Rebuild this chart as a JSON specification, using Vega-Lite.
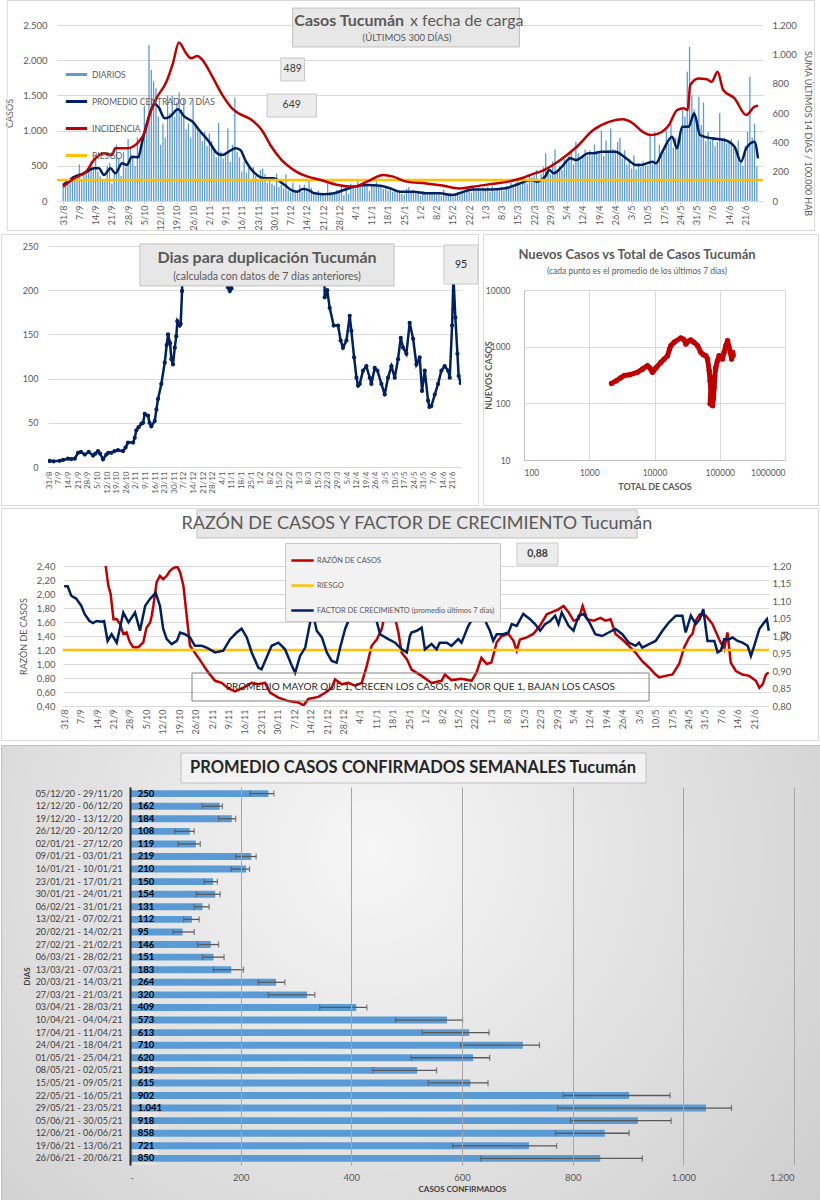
{
"$schema": "https://vega.github.io/schema/vega-lite/v6.json",
"padding": 0,
"background": "white",
"config": {
  "font": "Lato",
  "locale": {"number": {"decimal": ",", "thousands": ".", "grouping": [3], "currency": ["$", ""]}},
  "view": {"stroke": null},
  "axis": {"labelFont": "Lato", "titleFont": "Lato", "labelColor": "#595959", "titleColor": "#595959", "labelFontSize": 9, "titleFontSize": 9, "titleFontWeight": "normal", "gridColor": "#d9d9d9", "domain": false, "ticks": false, "labelOverlap": false},
  "legend": {"labelFont": "Lato", "labelColor": "#595959"},
  "text": {"font": "Lato"}
},
"datasets": {
"bars": [{"i":0,"v":250},{"i":1,"v":200},{"i":2,"v":310},{"i":3,"v":280},{"i":4,"v":350},{"i":5,"v":300},{"i":6,"v":330},
{"i":7,"v":520},{"i":8,"v":300},{"i":9,"v":420},{"i":10,"v":380},{"i":11,"v":450},{"i":12,"v":560},{"i":13,"v":480},
{"i":14,"v":600},{"i":15,"v":420},{"i":16,"v":350},{"i":17,"v":300},{"i":18,"v":280},{"i":19,"v":500},{"i":20,"v":540},
{"i":21,"v":250},{"i":22,"v":380},{"i":23,"v":800},{"i":24,"v":600},{"i":25,"v":360},{"i":26,"v":700},{"i":27,"v":480},
{"i":28,"v":880},{"i":29,"v":760},{"i":30,"v":620},{"i":31,"v":500},{"i":32,"v":900},{"i":33,"v":650},{"i":34,"v":820},
{"i":35,"v":1350},{"i":36,"v":1000},{"i":37,"v":2215},{"i":38,"v":1860},{"i":39,"v":1700},{"i":40,"v":1600},{"i":41,"v":1200},
{"i":42,"v":800},{"i":43,"v":1100},{"i":44,"v":900},{"i":45,"v":1500},{"i":46,"v":1250},{"i":47,"v":1500},{"i":48,"v":1200},
{"i":49,"v":1400},{"i":50,"v":1540},{"i":51,"v":1300},{"i":52,"v":1450},{"i":53,"v":1020},{"i":54,"v":1100},{"i":55,"v":900},
{"i":56,"v":1440},{"i":57,"v":1100},{"i":58,"v":1060},{"i":59,"v":1000},{"i":60,"v":850},{"i":61,"v":980},{"i":62,"v":780},
{"i":63,"v":960},{"i":64,"v":850},{"i":65,"v":720},{"i":66,"v":620},{"i":67,"v":1110},{"i":68,"v":700},{"i":69,"v":600},
{"i":70,"v":680},{"i":71,"v":1030},{"i":72,"v":560},{"i":73,"v":800},{"i":74,"v":1470},{"i":75,"v":700},{"i":76,"v":620},
{"i":77,"v":420},{"i":78,"v":560},{"i":79,"v":400},{"i":80,"v":480},{"i":81,"v":300},{"i":82,"v":480},{"i":83,"v":360},
{"i":84,"v":280},{"i":85,"v":440},{"i":86,"v":460},{"i":87,"v":380},{"i":88,"v":260},{"i":89,"v":320},{"i":90,"v":250},
{"i":91,"v":220},{"i":92,"v":390},{"i":93,"v":200},{"i":94,"v":230},{"i":95,"v":180},{"i":96,"v":380},{"i":97,"v":150},
{"i":98,"v":120},{"i":99,"v":260},{"i":100,"v":150},{"i":101,"v":110},{"i":102,"v":230},{"i":103,"v":130},{"i":104,"v":230},
{"i":105,"v":140},{"i":106,"v":300},{"i":107,"v":190},{"i":108,"v":120},{"i":109,"v":80},{"i":110,"v":150},{"i":111,"v":90},
{"i":112,"v":100},{"i":113,"v":70},{"i":114,"v":250},{"i":115,"v":130},{"i":116,"v":90},{"i":117,"v":110},{"i":118,"v":160},
{"i":119,"v":150},{"i":120,"v":230},{"i":121,"v":80},{"i":122,"v":200},{"i":123,"v":100},{"i":124,"v":250},{"i":125,"v":230},
{"i":126,"v":180},{"i":127,"v":290},{"i":128,"v":240},{"i":129,"v":200},{"i":130,"v":250},{"i":131,"v":220},{"i":132,"v":140},
{"i":133,"v":220},{"i":134,"v":210},{"i":135,"v":280},{"i":136,"v":200},{"i":137,"v":230},{"i":138,"v":170},{"i":139,"v":180},
{"i":140,"v":150},{"i":141,"v":200},{"i":142,"v":130},{"i":143,"v":160},{"i":144,"v":120},{"i":145,"v":140},{"i":146,"v":100},
{"i":147,"v":90},{"i":148,"v":170},{"i":149,"v":200},{"i":150,"v":130},{"i":151,"v":160},{"i":152,"v":110},{"i":153,"v":140},
{"i":154,"v":80},{"i":155,"v":140},{"i":156,"v":120},{"i":157,"v":90},{"i":158,"v":120},{"i":159,"v":100},{"i":160,"v":130},
{"i":161,"v":90},{"i":162,"v":130},{"i":163,"v":70},{"i":164,"v":160},{"i":165,"v":100},{"i":166,"v":80},{"i":167,"v":110},
{"i":168,"v":60},{"i":169,"v":100},{"i":170,"v":110},{"i":171,"v":90},{"i":172,"v":150},{"i":173,"v":120},{"i":174,"v":130},
{"i":175,"v":170},{"i":176,"v":120},{"i":177,"v":200},{"i":178,"v":150},{"i":179,"v":180},{"i":180,"v":140},{"i":181,"v":190},
{"i":182,"v":160},{"i":183,"v":200},{"i":184,"v":130},{"i":185,"v":210},{"i":186,"v":150},{"i":187,"v":180},{"i":188,"v":170},
{"i":189,"v":200},{"i":190,"v":150},{"i":191,"v":210},{"i":192,"v":190},{"i":193,"v":260},{"i":194,"v":230},{"i":195,"v":260},
{"i":196,"v":300},{"i":197,"v":220},{"i":198,"v":280},{"i":199,"v":340},{"i":200,"v":250},{"i":201,"v":380},{"i":202,"v":330},
{"i":203,"v":350},{"i":204,"v":440},{"i":205,"v":300},{"i":206,"v":380},{"i":207,"v":480},{"i":208,"v":680},{"i":209,"v":420},
{"i":210,"v":380},{"i":211,"v":560},{"i":212,"v":730},{"i":213,"v":450},{"i":214,"v":500},{"i":215,"v":440},{"i":216,"v":600},
{"i":217,"v":560},{"i":218,"v":640},{"i":219,"v":700},{"i":220,"v":520},{"i":221,"v":840},{"i":222,"v":680},{"i":223,"v":580},
{"i":224,"v":620},{"i":225,"v":730},{"i":226,"v":640},{"i":227,"v":720},{"i":228,"v":650},{"i":229,"v":800},{"i":230,"v":700},
{"i":231,"v":690},{"i":232,"v":1000},{"i":233,"v":640},{"i":234,"v":860},{"i":235,"v":720},{"i":236,"v":1030},{"i":237,"v":740},
{"i":238,"v":720},{"i":239,"v":840},{"i":240,"v":900},{"i":241,"v":600},{"i":242,"v":720},{"i":243,"v":520},{"i":244,"v":600},
{"i":245,"v":460},{"i":246,"v":650},{"i":247,"v":450},{"i":248,"v":540},{"i":249,"v":480},{"i":250,"v":560},{"i":251,"v":500},
{"i":252,"v":500},{"i":253,"v":936},{"i":254,"v":520},{"i":255,"v":980},{"i":256,"v":540},{"i":257,"v":800},{"i":258,"v":680},
{"i":259,"v":700},{"i":260,"v":1000},{"i":261,"v":820},{"i":262,"v":1100},{"i":263,"v":760},{"i":264,"v":900},{"i":265,"v":880},
{"i":266,"v":950},{"i":267,"v":1300},{"i":268,"v":1200},{"i":269,"v":1836},{"i":270,"v":2191},{"i":271,"v":1500},{"i":272,"v":1300},
{"i":273,"v":1150},{"i":274,"v":1481},{"i":275,"v":1080},{"i":276,"v":1400},{"i":277,"v":850},{"i":278,"v":980},{"i":279,"v":860},
{"i":280,"v":900},{"i":281,"v":780},{"i":282,"v":840},{"i":283,"v":1250},{"i":284,"v":860},{"i":285,"v":900},{"i":286,"v":820},
{"i":287,"v":850},{"i":288,"v":880},{"i":289,"v":760},{"i":290,"v":700},{"i":291,"v":860},{"i":292,"v":540},{"i":293,"v":500},
{"i":294,"v":780},{"i":295,"v":980},{"i":296,"v":1765},{"i":297,"v":900},{"i":298,"v":1100},{"i":299,"v":489}],
"prom": [{"i":0,"v":227},{"i":5,"v":345},{"i":9,"v":393},{"i":13.3,"v":464},{"i":15.4,"v":464},{"i":17.6,"v":369},{"i":20.4,"v":464},{"i":22.5,"v":393},{"i":25.4,"v":535},{"i":27.5,"v":511},{"i":29.6,"v":629},{"i":32.4,"v":620},{"i":33.9,"v":819},{"i":35.3,"v":1008},{"i":37.4,"v":1245},{"i":39.5,"v":1377},{"i":41,"v":1340},{"i":43.8,"v":1174},{"i":46,"v":1198},{"i":49.5,"v":1302},{"i":52.3,"v":1198},{"i":55.8,"v":1126},{"i":58.6,"v":1008},{"i":62.9,"v":843},{"i":66.4,"v":677},{"i":68.6,"v":653},{"i":71.4,"v":701},{"i":74.2,"v":748},{"i":76.4,"v":724},{"i":78.5,"v":582},{"i":82.7,"v":393},{"i":87,"v":322},{"i":90.5,"v":322},{"i":95.5,"v":227},{"i":98.3,"v":156},{"i":101,"v":133},{"i":103.3,"v":170},{"i":106,"v":150},{"i":108.3,"v":109},{"i":112.6,"v":95},{"i":116.8,"v":109},{"i":121,"v":156},{"i":125.4,"v":203},{"i":131,"v":227},{"i":136.7,"v":215},{"i":141,"v":180},{"i":145.2,"v":133},{"i":150.9,"v":133},{"i":156.6,"v":109},{"i":162.3,"v":109},{"i":167.9,"v":85},{"i":170.7,"v":109},{"i":176.4,"v":165},{"i":184.9,"v":165},{"i":190.6,"v":180},{"i":196.3,"v":242},{"i":201.9,"v":300},{"i":204,"v":275},{"i":208,"v":360},{"i":209.5,"v":440},{"i":211.5,"v":393},{"i":215,"v":488},{"i":218.6,"v":606},{"i":221,"v":582},{"i":226.5,"v":677},{"i":228.5,"v":677},{"i":232,"v":701},{"i":235.6,"v":701},{"i":238,"v":701},{"i":242.7,"v":606},{"i":247,"v":511},{"i":249,"v":511},{"i":254,"v":559},{"i":255.5,"v":535},{"i":258.3,"v":701},{"i":262.5,"v":913},{"i":264.6,"v":748},{"i":266.8,"v":1055},{"i":269.6,"v":1055},{"i":272,"v":1245},{"i":274.5,"v":937},{"i":279.5,"v":890},{"i":285,"v":866},{"i":289.4,"v":771},{"i":292.2,"v":558},{"i":294.4,"v":748},{"i":298,"v":843},{"i":299.5,"v":606}],
"inc": [{"i":0,"v":97},{"i":4.8,"v":155},{"i":9.9,"v":200},{"i":13.3,"v":280},{"i":17.6,"v":325},{"i":21,"v":314},{"i":22.5,"v":359},{"i":27.5,"v":359},{"i":33.2,"v":416},{"i":35.3,"v":473},{"i":37.4,"v":598},{"i":40.2,"v":700},{"i":44.5,"v":813},{"i":47.3,"v":939},{"i":49.9,"v":1080},{"i":53,"v":1007},{"i":55.1,"v":973},{"i":57.9,"v":989},{"i":60,"v":962},{"i":64.3,"v":848},{"i":68.6,"v":723},{"i":72.8,"v":632},{"i":75.6,"v":598},{"i":81.3,"v":552},{"i":85.6,"v":484},{"i":89.8,"v":370},{"i":94.1,"v":280},{"i":98.3,"v":223},{"i":101,"v":195},{"i":105.5,"v":166},{"i":111,"v":143},{"i":118.3,"v":109},{"i":125.4,"v":97},{"i":131,"v":132},{"i":138,"v":177},{"i":142.3,"v":166},{"i":148,"v":132},{"i":156.4,"v":120},{"i":163.5,"v":105},{"i":170.6,"v":86},{"i":176.3,"v":97},{"i":184.8,"v":116},{"i":191.9,"v":132},{"i":197.5,"v":155},{"i":201.8,"v":180},{"i":207.2,"v":211},{"i":214.3,"v":280},{"i":221.4,"v":370},{"i":228.5,"v":484},{"i":235.6,"v":541},{"i":241.2,"v":557},{"i":245.5,"v":530},{"i":249.7,"v":473},{"i":253.3,"v":450},{"i":256.8,"v":461},{"i":261.1,"v":518},{"i":264.6,"v":620},{"i":267.5,"v":632},{"i":269.2,"v":620},{"i":270.3,"v":791},{"i":273.8,"v":836},{"i":277.4,"v":830},{"i":279.5,"v":813},{"i":282.1,"v":882},{"i":284.5,"v":757},{"i":289.4,"v":700},{"i":294.4,"v":586},{"i":298,"v":643},{"i":299.5,"v":649}],
"dup": [{"d":0.2,"v":6.8},{"d":3,"v":6.5},{"d":7.5,"v":7},{"d":10,"v":8},{"d":13.6,"v":9.4},{"d":16,"v":9},{"d":18.5,"v":9.4},{"d":20.9,"v":16},{"d":23,"v":17},{"d":25.8,"v":14},{"d":28.7,"v":17},{"d":31.8,"v":13},{"d":33.5,"v":15},{"d":35.5,"v":18},{"d":37,"v":15},{"d":39.1,"v":8.7},{"d":41.5,"v":14},{"d":43,"v":16},{"d":45.2,"v":16},{"d":47.5,"v":18},{"d":50,"v":19},{"d":53.7,"v":18},{"d":55.5,"v":22},{"d":57.3,"v":27.6},{"d":61,"v":27.6},{"d":62.2,"v":33},{"d":63.4,"v":41.5},{"d":65,"v":45},{"d":67.1,"v":49},{"d":68.3,"v":50},{"d":69.5,"v":60},{"d":71.9,"v":58},{"d":73,"v":50},{"d":74.3,"v":46},{"d":76.8,"v":52},{"d":78,"v":65},{"d":79.2,"v":77},{"d":81.6,"v":94},{"d":84.1,"v":118},{"d":85.5,"v":138},{"d":86.5,"v":150},{"d":88,"v":140},{"d":88.9,"v":122},{"d":90.1,"v":116},{"d":91.4,"v":135},{"d":92.5,"v":148},{"d":93.3,"v":165},{"d":95,"v":160},{"d":95.7,"v":162},{"d":96.7,"v":199},{"d":98,"v":290},{"d":105,"v":600},{"d":120,"v":700},{"d":128,"v":400},{"d":130.2,"v":203},{"d":131.5,"v":199},{"d":132.7,"v":202},{"d":134,"v":400},{"d":160,"v":900},{"d":190,"v":900},{"d":199,"v":320},{"d":200.7,"v":192},{"d":202.5,"v":200},{"d":204.3,"v":180},{"d":207.2,"v":160},{"d":210.4,"v":160},{"d":212.3,"v":143},{"d":214,"v":135},{"d":216.5,"v":143},{"d":218.9,"v":171},{"d":220.1,"v":154},{"d":222.1,"v":124},{"d":223.8,"v":101},{"d":225,"v":92},{"d":226.2,"v":94},{"d":228.6,"v":109},{"d":231,"v":114},{"d":233.5,"v":101},{"d":234.7,"v":94},{"d":237.1,"v":112},{"d":239.1,"v":109},{"d":242,"v":94},{"d":244.4,"v":82},{"d":246.8,"v":101},{"d":249.3,"v":114},{"d":251.7,"v":101},{"d":254.1,"v":122},{"d":256.1,"v":146},{"d":257.8,"v":135},{"d":260.2,"v":128},{"d":262.6,"v":163},{"d":265.1,"v":145},{"d":267.5,"v":116},{"d":269.9,"v":124},{"d":271.6,"v":86},{"d":273.6,"v":109},{"d":276,"v":75},{"d":277,"v":68},{"d":278.4,"v":69},{"d":280.9,"v":82},{"d":283.3,"v":94},{"d":285.7,"v":109},{"d":288.1,"v":114},{"d":290.6,"v":109},{"d":291.8,"v":101},{"d":293.5,"v":160},{"d":294.5,"v":215},{"d":295.9,"v":169},{"d":297.4,"v":128},{"d":298.3,"v":103},{"d":299.8,"v":95}],
"sc": [{"k":0,"x":2190,"y":225},{"k":1,"x":2600,"y":250},{"k":2,"x":3000,"y":280},{"k":3,"x":3420,"y":309},{"k":4,"x":4200,"y":320},{"k":5,"x":5480,"y":352},{"k":6,"x":6500,"y":400},{"k":7,"x":7810,"y":462},{"k":8,"x":8500,"y":420},{"k":9,"x":9310,"y":352},{"k":10,"x":10500,"y":420},{"k":11,"x":12500,"y":528},{"k":12,"x":14000,"y":600},{"k":13,"x":15850,"y":692},{"k":14,"x":17000,"y":900},{"k":15,"x":17800,"y":1041},{"k":16,"x":20000,"y":1200},{"k":17,"x":25300,"y":1422},{"k":18,"x":28000,"y":1350},{"k":19,"x":30200,"y":1115},{"k":20,"x":33000,"y":1250},{"k":21,"x":36000,"y":1312},{"k":22,"x":40000,"y":1200},{"k":23,"x":45700,"y":1041},{"k":24,"x":51300,"y":795},{"k":25,"x":56000,"y":720},{"k":26,"x":61200,"y":692},{"k":27,"x":65000,"y":600},{"k":28,"x":68900,"y":378},{"k":29,"x":71000,"y":250},{"k":30,"x":73000,"y":191},{"k":31,"x":71300,"y":98},{"k":32,"x":74000,"y":100},{"k":33,"x":77600,"y":91},{"k":34,"x":80000,"y":120},{"k":35,"x":82100,"y":191},{"k":36,"x":84000,"y":300},{"k":37,"x":87100,"y":431},{"k":38,"x":92000,"y":560},{"k":39,"x":97700,"y":692},{"k":40,"x":103000,"y":640},{"k":41,"x":110000,"y":603},{"k":42,"x":117000,"y":800},{"k":43,"x":124000,"y":1041},{"k":44,"x":132000,"y":1277},{"k":45,"x":138000,"y":1000},{"k":46,"x":145000,"y":795},{"k":47,"x":152000,"y":603},{"k":48,"x":158000,"y":795},{"k":49,"x":160000,"y":700}],
"razon": [{"d":16.5,"v":2.8},{"d":17.7,"v":2.4},{"d":18.8,"v":2.12},{"d":19.8,"v":2.0},{"d":21,"v":1.64},{"d":22.4,"v":1.64},{"d":23.8,"v":1.57},{"d":25.2,"v":1.43},{"d":26.6,"v":1.45},{"d":28,"v":1.31},{"d":29.4,"v":1.24},{"d":31.6,"v":1.24},{"d":33.7,"v":1.31},{"d":35.1,"v":1.52},{"d":36.6,"v":1.59},{"d":37.3,"v":1.69},{"d":38,"v":1.83},{"d":39.4,"v":2.17},{"d":40.8,"v":2.26},{"d":42.2,"v":2.21},{"d":43.7,"v":2.26},{"d":45.1,"v":2.33},{"d":46.5,"v":2.37},{"d":48.2,"v":2.39},{"d":49.4,"v":2.31},{"d":50.8,"v":2.12},{"d":52.2,"v":1.69},{"d":53.6,"v":1.26},{"d":55.7,"v":1.16},{"d":58.6,"v":1.02},{"d":61.4,"v":0.88},{"d":64.3,"v":0.76},{"d":67.1,"v":0.73},{"d":70,"v":0.65},{"d":72.8,"v":0.61},{"d":75.6,"v":0.65},{"d":79.9,"v":0.73},{"d":82.7,"v":0.71},{"d":85.6,"v":0.73},{"d":87.7,"v":0.59},{"d":91.3,"v":0.52},{"d":95.6,"v":0.47},{"d":99.8,"v":0.45},{"d":102,"v":0.41},{"d":104,"v":0.5},{"d":108.3,"v":0.53},{"d":111.2,"v":0.59},{"d":114,"v":0.66},{"d":115.4,"v":0.78},{"d":118.3,"v":0.71},{"d":121,"v":0.73},{"d":124,"v":0.69},{"d":126.8,"v":0.73},{"d":128.9,"v":0.97},{"d":131,"v":1.26},{"d":133.2,"v":1.35},{"d":135.3,"v":1.5},{"d":136.8,"v":1.74},{"d":138.4,"v":1.88},{"d":140.3,"v":1.76},{"d":142.4,"v":1.45},{"d":143.8,"v":1.16},{"d":146,"v":1.07},{"d":148,"v":0.92},{"d":152.3,"v":0.83},{"d":156.5,"v":0.73},{"d":160.8,"v":0.76},{"d":162.2,"v":0.85},{"d":165,"v":0.77},{"d":169.3,"v":0.79},{"d":173.6,"v":0.76},{"d":175.7,"v":0.88},{"d":177.8,"v":1.09},{"d":180,"v":1.0},{"d":182,"v":1.02},{"d":184.3,"v":1.31},{"d":186.4,"v":1.4},{"d":189.3,"v":1.43},{"d":191.4,"v":1.33},{"d":192.8,"v":1.19},{"d":194.2,"v":1.35},{"d":197.1,"v":1.38},{"d":199.9,"v":1.43},{"d":202.8,"v":1.55},{"d":205.6,"v":1.71},{"d":207.8,"v":1.74},{"d":210.6,"v":1.78},{"d":212.8,"v":1.83},{"d":214.9,"v":1.74},{"d":217,"v":1.62},{"d":219.2,"v":1.64},{"d":220.9,"v":1.83},{"d":222.8,"v":1.64},{"d":225.6,"v":1.62},{"d":228.5,"v":1.66},{"d":230.6,"v":1.62},{"d":232.8,"v":1.64},{"d":234.9,"v":1.43},{"d":237.8,"v":1.35},{"d":240.6,"v":1.26},{"d":243.5,"v":1.16},{"d":246.3,"v":1.04},{"d":249.2,"v":0.95},{"d":252,"v":0.85},{"d":253.5,"v":0.81},{"d":256.3,"v":0.83},{"d":259.2,"v":0.85},{"d":262,"v":1.0},{"d":264.2,"v":1.24},{"d":266.3,"v":1.38},{"d":267.7,"v":1.43},{"d":269.1,"v":1.62},{"d":270.8,"v":1.71},{"d":273.4,"v":1.69},{"d":276.2,"v":1.57},{"d":279.1,"v":1.35},{"d":281.2,"v":1.21},{"d":282.6,"v":1.45},{"d":284,"v":1.02},{"d":286.2,"v":0.9},{"d":289,"v":0.85},{"d":291.9,"v":0.83},{"d":294.7,"v":0.76},{"d":296.2,"v":0.66},{"d":297.6,"v":0.71},{"d":299,"v":0.85},{"d":300.2,"v":0.88}],
"factor": [{"d":0,"v":1.142},{"d":1.5,"v":1.142},{"d":3,"v":1.115},{"d":5.1,"v":1.107},{"d":7.3,"v":1.086},{"d":8.7,"v":1.063},{"d":10.8,"v":1.043},{"d":12.3,"v":1.037},{"d":13.8,"v":1.043},{"d":15.9,"v":1.041},{"d":17,"v":1.043},{"d":18.5,"v":0.986},{"d":20.2,"v":1.005},{"d":22.4,"v":0.981},{"d":25.2,"v":1.067},{"d":27.4,"v":1.039},{"d":30.2,"v":1.067},{"d":32.3,"v":1.015},{"d":34.5,"v":1.086},{"d":36.6,"v":1.106},{"d":39,"v":1.123},{"d":40.8,"v":1.086},{"d":42.2,"v":1.02},{"d":43.7,"v":0.991},{"d":45.8,"v":0.977},{"d":48,"v":0.986},{"d":49.4,"v":1.01},{"d":51.5,"v":1.005},{"d":53.6,"v":0.996},{"d":55.7,"v":0.972},{"d":58.6,"v":0.972},{"d":60.7,"v":0.967},{"d":64.3,"v":0.953},{"d":67.8,"v":0.958},{"d":70.7,"v":0.991},{"d":73.5,"v":1.01},{"d":75.6,"v":1.021},{"d":77.8,"v":0.996},{"d":79.9,"v":0.953},{"d":82.7,"v":0.91},{"d":84.1,"v":0.905},{"d":86.2,"v":0.938},{"d":88.4,"v":0.972},{"d":91.3,"v":0.981},{"d":94.1,"v":0.962},{"d":97,"v":0.915},{"d":98.4,"v":0.895},{"d":100.5,"v":0.943},{"d":102.7,"v":0.967},{"d":104.8,"v":1.039},{"d":106.2,"v":1.058},{"d":107.6,"v":1.015},{"d":109.8,"v":0.996},{"d":111.9,"v":0.953},{"d":114,"v":0.929},{"d":116.1,"v":0.924},{"d":117.6,"v":0.967},{"d":119.7,"v":1.02},{"d":122,"v":1.058},{"d":124,"v":1.058},{"d":125.4,"v":1.091},{"d":127.5,"v":1.086},{"d":129.8,"v":1.077},{"d":132.5,"v":1.058},{"d":134.6,"v":1.005},{"d":138.1,"v":0.991},{"d":141,"v":0.981},{"d":143.8,"v":0.962},{"d":146,"v":0.953},{"d":147.3,"v":1.0},{"d":148,"v":1.01},{"d":150.2,"v":1.015},{"d":152.3,"v":1.024},{"d":153.7,"v":0.962},{"d":156.5,"v":0.977},{"d":158.7,"v":0.962},{"d":160,"v":0.981},{"d":163,"v":0.981},{"d":165,"v":0.972},{"d":167.9,"v":0.991},{"d":169.3,"v":0.981},{"d":172.2,"v":1.029},{"d":174.3,"v":1.053},{"d":176.4,"v":1.067},{"d":178.5,"v":1.063},{"d":180,"v":1.034},{"d":181.4,"v":1.015},{"d":182.8,"v":0.986},{"d":184.3,"v":1.005},{"d":187.1,"v":1.005},{"d":189.3,"v":1.01},{"d":190.7,"v":1.034},{"d":192.8,"v":1.029},{"d":195.6,"v":1.063},{"d":198.5,"v":1.048},{"d":200.6,"v":1.034},{"d":202.8,"v":1.015},{"d":204.9,"v":1.034},{"d":207.1,"v":1.043},{"d":209.2,"v":1.058},{"d":210.6,"v":1.034},{"d":212,"v":1.067},{"d":214.9,"v":1.029},{"d":217,"v":1.015},{"d":219.2,"v":1.058},{"d":221.3,"v":1.063},{"d":223.5,"v":1.043},{"d":226.3,"v":1.005},{"d":229.2,"v":1.0},{"d":232,"v":1.01},{"d":234.9,"v":1.02},{"d":237.8,"v":1.005},{"d":240.6,"v":0.981},{"d":243.5,"v":0.972},{"d":244.9,"v":0.981},{"d":246.3,"v":0.967},{"d":249.2,"v":0.977},{"d":252,"v":0.986},{"d":254.9,"v":1.015},{"d":257.7,"v":1.039},{"d":260.6,"v":1.058},{"d":263.4,"v":1.058},{"d":264.8,"v":1.01},{"d":267,"v":1.058},{"d":269.1,"v":1.034},{"d":270.8,"v":1.048},{"d":272.3,"v":1.077},{"d":274.1,"v":0.986},{"d":277,"v":0.986},{"d":278.4,"v":0.953},{"d":279.8,"v":0.958},{"d":281.2,"v":0.991},{"d":283.4,"v":0.991},{"d":284.8,"v":0.996},{"d":286.9,"v":0.986},{"d":289,"v":0.981},{"d":291.2,"v":0.972},{"d":292.6,"v":0.943},{"d":294,"v":0.972},{"d":296.2,"v":1.02},{"d":298.3,"v":1.039},{"d":299.4,"v":1.048},{"d":300.2,"v":1.015}],
"weeks": [{"w":"05/12/20 - 29/11/20","v":250,"lo":217,"hi":260},{"w":"12/12/20 - 06/12/20","v":162,"lo":131,"hi":167},{"w":"19/12/20 - 13/12/20","v":184,"lo":160,"hi":191},{"w":"26/12/20 - 20/12/20","v":108,"lo":81,"hi":116},{"w":"02/01/21 - 27/12/20","v":119,"lo":87,"hi":127},{"w":"09/01/21 - 03/01/21","v":219,"lo":191,"hi":228},{"w":"16/01/21 - 10/01/21","v":210,"lo":183,"hi":216},{"w":"23/01/21 - 17/01/21","v":150,"lo":134,"hi":158},{"w":"30/01/21 - 24/01/21","v":154,"lo":120,"hi":163},{"w":"06/02/21 - 31/01/21","v":131,"lo":116,"hi":143},{"w":"13/02/21 - 07/02/21","v":112,"lo":97,"hi":125},{"w":"20/02/21 - 14/02/21","v":95,"lo":78,"hi":116},{"w":"27/02/21 - 21/02/21","v":146,"lo":122,"hi":160},{"w":"06/03/21 - 28/02/21","v":151,"lo":131,"hi":170},{"w":"13/03/21 - 07/03/21","v":183,"lo":151,"hi":205},{"w":"20/03/21 - 14/03/21","v":264,"lo":232,"hi":280},{"w":"27/03/21 - 21/03/21","v":320,"lo":250,"hi":334},{"w":"03/04/21 - 28/03/21","v":409,"lo":343,"hi":428},{"w":"10/04/21 - 04/04/21","v":573,"lo":480,"hi":601},{"w":"17/04/21 - 11/04/21","v":613,"lo":528,"hi":649},{"w":"24/04/21 - 18/04/21","v":710,"lo":598,"hi":740},{"w":"01/05/21 - 25/04/21","v":620,"lo":508,"hi":650},{"w":"08/05/21 - 02/05/21","v":519,"lo":439,"hi":554},{"w":"15/05/21 - 09/05/21","v":615,"lo":539,"hi":647},{"w":"22/05/21 - 16/05/21","v":902,"lo":783,"hi":976},{"w":"29/05/21 - 23/05/21","v":1041,"lo":773,"hi":1087},{"w":"05/06/21 - 30/05/21","v":918,"lo":796,"hi":978},{"w":"12/06/21 - 06/06/21","v":858,"lo":769,"hi":902},{"w":"19/06/21 - 13/06/21","v":721,"lo":583,"hi":771},{"w":"26/06/21 - 20/06/21","v":850,"lo":634,"hi":926}]
},
"spacing": 2,
"resolve": {"scale": {"color": "independent"}, "legend": {"color": "independent"}},
"vconcat": [
{
 "spacing": 0, "bounds": "flush",
 "hconcat": [
 {"width": 56, "height": 1, "data": {"values": []}, "mark": "point"},
 {
 "width": 706, "height": 176,
 "resolve": {"scale": {"y": "independent"}},
 "layer": [
  {"layer": [
   {"data": {"values": [{}]}, "mark": {"type": "rect", "fill": "transparent", "stroke": "#d9d9d9"},
    "encoding": {"x": {"datum": -24.08, "type": "quantitative", "scale": {"domain": [-0.5, 299.5], "nice": false, "zero": false}}, "x2": {"datum": 323.9}, "y": {"datum": 2848, "type": "quantitative", "scale": {"domain": [0, 2500], "nice": false, "zero": false}}, "y2": {"datum": -419}}},
   {"data": {"name": "bars"}, "mark": {"type": "bar", "width": 1.3, "color": "#5b9bd5", "orient": "vertical"},
    "encoding": {
     "x": {"field": "i", "type": "quantitative", "scale": {"domain": [-0.5, 299.5], "nice": false, "zero": false},
       "axis": {"values": [0,7,14,21,28,35,42,49,56,63,70,77,84,91,98,105,112,119,126,133,140,147,154,161,168,175,182,189,196,203,210,217,224,231,238,245,252,259,266,273,280,287,294], "tickCount": 100, "labelExpr": "timeFormat(datetime(2020,7,31+datum.value),'%-d/%-m')", "labelAngle": -90, "labelFontSize": 9, "labelPadding": 1, "labelOverlap": false, "domain": true, "domainColor": "#d9d9d9", "ticks": true, "tickColor": "#d9d9d9", "tickSize": 3, "grid": false, "title": null}},
     "y": {"field": "v", "type": "quantitative", "scale": {"domain": [0, 2500], "nice": false, "zero": false},
       "axis": {"values": [0,500,1000,1500,2000,2500], "tickCount": 100, "format": ",.0f", "labelOverlap": false, "grid": true, "title": "CASOS", "titlePadding": 8, "labelPadding": 10, "labelFontSize": 9.5}}}},
   {"data": {"name": "prom"}, "mark": {"type": "line", "color": "#002060", "strokeWidth": 2.5, "interpolate": "monotone"},
    "encoding": {"x": {"field": "i", "type": "quantitative", "scale": {"domain": [-0.5, 299.5], "nice": false, "zero": false}}, "y": {"field": "v", "type": "quantitative", "scale": {"domain": [0, 2500], "nice": false, "zero": false}}}},
   {"data": {"values": [{}]}, "mark": {"type": "rule", "color": "#ffc000", "strokeWidth": 2.5},
    "encoding": {"y": {"datum": 300, "type": "quantitative", "scale": {"domain": [0, 2500], "nice": false, "zero": false}}}},
   {"data": {"values": [{"s": "DIARIOS"}, {"s": "PROMEDIO CENTRADO 7 DÍAS"}, {"s": "INCIDENCIA"}, {"s": "RIESGO"}]}, "mark": {"type": "line", "strokeWidth": 3},
    "encoding": {"color": {"field": "s", "type": "nominal", "scale": {"domain": ["DIARIOS", "PROMEDIO CENTRADO 7 DÍAS", "INCIDENCIA", "RIESGO"], "range": ["#5b9bd5", "#002060", "#c00000", "#ffc000"]},
      "legend": {"orient": "none", "legendX": 63, "legendY": 37, "title": null, "symbolType": "stroke", "symbolStrokeWidth": 3, "symbolSize": 450, "labelFontSize": 8.5, "labelLimit": 0, "rowPadding": 8, "padding": 0, "labelOffset": 3}}}},
   {"data": {"values": [{}]}, "mark": {"type": "rect", "fill": "#e7e7e7", "stroke": "#bfbfbf"},
    "encoding": {"x": {"datum": 98.93, "type": "quantitative", "scale": {"domain": [-0.5, 299.5], "nice": false, "zero": false}}, "x2": {"datum": 196.67}, "y": {"datum": 2741, "type": "quantitative", "scale": {"domain": [0, 2500], "nice": false, "zero": false}}, "y2": {"datum": 2188}}},
   {"data": {"values": [{}]}, "mark": {"type": "text", "text": "Casos Tucumán", "fontSize": 16, "fontWeight": "bold", "color": "#595959", "align": "right", "baseline": "middle"},
    "encoding": {"x": {"datum": 146.95, "type": "quantitative", "scale": {"domain": [-0.5, 299.5], "nice": false, "zero": false}}, "y": {"datum": 2557, "type": "quantitative", "scale": {"domain": [0, 2500], "nice": false, "zero": false}}}},
   {"data": {"values": [{}]}, "mark": {"type": "text", "text": "x fecha de carga", "fontSize": 16, "color": "#595959", "align": "left", "baseline": "middle"},
    "encoding": {"x": {"datum": 149.5, "type": "quantitative", "scale": {"domain": [-0.5, 299.5], "nice": false, "zero": false}}, "y": {"datum": 2557, "type": "quantitative", "scale": {"domain": [0, 2500], "nice": false, "zero": false}}}},
   {"data": {"values": [{}]}, "mark": {"type": "text", "text": "(ÚLTIMOS 300 DÍAS)", "fontSize": 9.5, "color": "#595959", "align": "center", "baseline": "middle"},
    "encoding": {"x": {"datum": 148.2, "type": "quantitative", "scale": {"domain": [-0.5, 299.5], "nice": false, "zero": false}}, "y": {"datum": 2315, "type": "quantitative", "scale": {"domain": [0, 2500], "nice": false, "zero": false}}}},
   {"data": {"values": [{}]}, "mark": {"type": "rect", "fill": "#ececec", "stroke": "#c8c8c8"},
    "encoding": {"x": {"datum": 93.83, "type": "quantitative", "scale": {"domain": [-0.5, 299.5], "nice": false, "zero": false}}, "x2": {"datum": 104.03}, "y": {"datum": 2031, "type": "quantitative", "scale": {"domain": [0, 2500], "nice": false, "zero": false}}, "y2": {"datum": 1705}}},
   {"data": {"values": [{}]}, "mark": {"type": "text", "text": "489", "fontSize": 10.5, "color": "#404040"},
    "encoding": {"x": {"datum": 98.93, "type": "quantitative", "scale": {"domain": [-0.5, 299.5], "nice": false, "zero": false}}, "y": {"datum": 1868, "type": "quantitative", "scale": {"domain": [0, 2500], "nice": false, "zero": false}}}},
   {"data": {"values": [{}]}, "mark": {"type": "rect", "fill": "#ececec", "stroke": "#c8c8c8"},
    "encoding": {"x": {"datum": 87.9, "type": "quantitative", "scale": {"domain": [-0.5, 299.5], "nice": false, "zero": false}}, "x2": {"datum": 109.1}, "y": {"datum": 1520, "type": "quantitative", "scale": {"domain": [0, 2500], "nice": false, "zero": false}}, "y2": {"datum": 1193}}},
   {"data": {"values": [{}]}, "mark": {"type": "text", "text": "649", "fontSize": 10.5, "color": "#404040"},
    "encoding": {"x": {"datum": 98.5, "type": "quantitative", "scale": {"domain": [-0.5, 299.5], "nice": false, "zero": false}}, "y": {"datum": 1357, "type": "quantitative", "scale": {"domain": [0, 2500], "nice": false, "zero": false}}}}
  ]},
  {"data": {"name": "inc"}, "mark": {"type": "line", "color": "#c00000", "strokeWidth": 2.5, "interpolate": "monotone"},
   "encoding": {"x": {"field": "i", "type": "quantitative", "scale": {"domain": [-0.5, 299.5], "nice": false, "zero": false}},
    "y": {"field": "v", "type": "quantitative", "scale": {"domain": [0, 1200], "nice": false, "zero": false},
     "axis": {"orient": "right", "values": [0,200,400,600,800,1000,1200], "tickCount": 100, "format": ",.0f", "labelOverlap": false, "grid": false, "title": "SUMA  ÚLTIMOS 14 DÍAS / 100.000 HAB", "titleAngle": 90, "titlePadding": 6, "labelPadding": 9, "labelFontSize": 9.5, "titleY": 108}}}}
 ]
 }
 ]
},
{
 "spacing": 0, "bounds": "flush",
 "hconcat": [
  {"width": 47, "height": 1, "data": {"values": []}, "mark": "point"},
  {
   "width": 413, "height": 221,
   "layer": [
    {"data": {"values": [{}]}, "mark": {"type": "rect", "fill": "transparent", "stroke": "#d9d9d9"},
     "encoding": {"x": {"datum": -34.9, "type": "quantitative", "scale": {"domain": [-1, 300], "nice": false, "zero": false}}, "x2": {"datum": 312.8}, "y": {"datum": 263.0, "type": "quantitative", "scale": {"domain": [0, 250], "nice": false, "zero": false}}, "y2": {"datum": -43.55}}},
    {"data": {"name": "dup"}, "mark": {"type": "line", "color": "#002060", "strokeWidth": 2.5, "clip": true},
     "encoding": {"x": {"field": "d", "type": "quantitative", "scale": {"domain": [-1, 300], "nice": false, "zero": false},
       "axis": {"values": [0,7,14,21,28,35,42,49,56,63,70,77,84,91,98,105,112,119,126,133,140,147,154,161,168,175,182,189,196,203,210,217,224,231,238,245,252,259,266,273,280,287,294], "tickCount": 100, "labelExpr": "timeFormat(datetime(2020,7,31+datum.value),'%-d/%-m')", "labelAngle": -90, "labelFontSize": 8, "labelPadding": 4, "labelOverlap": false, "grid": false, "title": null}},
      "y": {"field": "v", "type": "quantitative", "scale": {"domain": [0, 250], "nice": false, "zero": false},
       "axis": {"values": [0,50,100,150,200,250], "tickCount": 100, "labelOverlap": false, "grid": true, "title": null, "labelPadding": 10, "labelFontSize": 9}}}},
    {"data": {"name": "dup"}, "mark": {"type": "circle", "color": "#002060", "size": 18, "opacity": 1, "clip": true},
     "encoding": {"x": {"field": "d", "type": "quantitative", "scale": {"domain": [-1, 300], "nice": false, "zero": false}}, "y": {"field": "v", "type": "quantitative", "scale": {"domain": [0, 250], "nice": false, "zero": false}}}},
    {"data": {"values": [{}]}, "mark": {"type": "rect", "fill": "#e7e7e7", "stroke": "#bfbfbf"},
     "encoding": {"x": {"datum": 66.05, "type": "quantitative", "scale": {"domain": [-1, 300], "nice": false, "zero": false}}, "x2": {"datum": 251.2}, "y": {"datum": 252.3, "type": "quantitative", "scale": {"domain": [0, 250], "nice": false, "zero": false}}, "y2": {"datum": 204.8}}},
    {"data": {"values": [{}]}, "mark": {"type": "text", "text": "Dias para duplicación Tucumán", "fontSize": 16, "fontWeight": "bold", "color": "#595959"},
     "encoding": {"x": {"datum": 158.6, "type": "quantitative", "scale": {"domain": [-1, 300], "nice": false, "zero": false}}, "y": {"datum": 236.4, "type": "quantitative", "scale": {"domain": [0, 250], "nice": false, "zero": false}}}},
    {"data": {"values": [{}]}, "mark": {"type": "text", "text": "(calculada con datos de 7 días anteriores)", "fontSize": 10.5, "color": "#595959"},
     "encoding": {"x": {"datum": 158.6, "type": "quantitative", "scale": {"domain": [-1, 300], "nice": false, "zero": false}}, "y": {"datum": 214.9, "type": "quantitative", "scale": {"domain": [0, 250], "nice": false, "zero": false}}}},
    {"data": {"values": [{}]}, "mark": {"type": "rect", "fill": "#ececec", "stroke": "#c8c8c8"},
     "encoding": {"x": {"datum": 287.6, "type": "quantitative", "scale": {"domain": [-1, 300], "nice": false, "zero": false}}, "x2": {"datum": 312.4}, "y": {"datum": 251.1, "type": "quantitative", "scale": {"domain": [0, 250], "nice": false, "zero": false}}, "y2": {"datum": 207.0}}},
    {"data": {"values": [{}]}, "mark": {"type": "text", "text": "95", "fontSize": 10.5, "color": "#262626"},
     "encoding": {"x": {"datum": 300.0, "type": "quantitative", "scale": {"domain": [-1, 300], "nice": false, "zero": false}}, "y": {"datum": 228.5, "type": "quantitative", "scale": {"domain": [0, 250], "nice": false, "zero": false}}}}
   ]
  },
  {"width": 63, "height": 1, "data": {"values": []}, "mark": "point"},
  {
   "spacing": 0, "bounds": "flush",
   "vconcat": [
    {"width": 1, "height": 44, "data": {"values": []}, "mark": "point"},
    {
     "width": 261, "height": 170,
     "layer": [
      {"data": {"values": [{}]}, "mark": {"type": "rect", "fill": "transparent", "stroke": "#d9d9d9"},
       "encoding": {"x": {"datum": 23.95, "type": "quantitative", "scale": {"type": "log", "domain": [100, 1000000], "nice": false}}, "x2": {"datum": 3262000}, "y": {"datum": 95370, "type": "quantitative", "scale": {"type": "log", "domain": [10, 10000], "nice": false}}, "y2": {"datum": 1.575}}},
      {"data": {"name": "sc"}, "mark": {"type": "line", "color": "#c00000", "strokeWidth": 5, "strokeCap": "round", "strokeJoin": "round"},
       "encoding": {"x": {"field": "x", "type": "quantitative", "scale": {"type": "log", "domain": [100, 1000000], "nice": false},
         "axis": {"values": [100,1000,10000,100000,1000000], "tickCount": 100, "format": "d", "labelOverlap": false, "grid": true, "domain": true, "domainColor": "#bfbfbf", "title": "TOTAL DE CASOS", "titleFontWeight": "bold", "titlePadding": 6, "labelPadding": 8, "labelFontSize": 8.5}},
        "y": {"field": "y", "type": "quantitative", "scale": {"type": "log", "domain": [10, 10000], "nice": false},
         "axis": {"values": [10,100,1000,10000], "tickCount": 100, "format": "d", "labelOverlap": false, "grid": true, "domain": true, "domainColor": "#bfbfbf", "title": "NUEVOS CASOS", "titleFontWeight": "bold", "titlePadding": -8, "labelPadding": 14, "labelFontSize": 8.5}},
        "order": {"field": "k", "type": "quantitative"}}},
      {"data": {"name": "sc"}, "mark": {"type": "circle", "color": "#c00000", "size": 28, "opacity": 1},
       "encoding": {"x": {"field": "x", "type": "quantitative", "scale": {"type": "log", "domain": [100, 1000000], "nice": false}}, "y": {"field": "y", "type": "quantitative", "scale": {"type": "log", "domain": [10, 10000], "nice": false}}}},
      {"data": {"values": [{}]}, "mark": {"type": "text", "text": "Nuevos Casos vs Total de Casos Tucumán", "fontSize": 13, "fontWeight": "bold", "color": "#595959"},
       "encoding": {"x": {"datum": 5393, "type": "quantitative", "scale": {"type": "log", "domain": [100, 1000000], "nice": false}}, "y": {"datum": 41460, "type": "quantitative", "scale": {"type": "log", "domain": [10, 10000], "nice": false}}}},
      {"data": {"values": [{}]}, "mark": {"type": "text", "text": "(cada punto es el promedio de los últimos 7 días)", "fontSize": 8.5, "color": "#595959"},
       "encoding": {"x": {"datum": 5393, "type": "quantitative", "scale": {"type": "log", "domain": [100, 1000000], "nice": false}}, "y": {"datum": 21640, "type": "quantitative", "scale": {"type": "log", "domain": [10, 10000], "nice": false}}}}
     ]
    }
   ]
  }
 ]
},
{
 "spacing": 0, "bounds": "flush",
 "hconcat": [
 {"width": 62, "height": 1, "data": {"values": []}, "mark": "point"},
 {
 "width": 706, "height": 140,
 "resolve": {"scale": {"y": "independent"}},
 "layer": [
  {"layer": [
   {"data": {"values": [{}]}, "mark": {"type": "rect", "fill": "transparent", "stroke": "#d9d9d9"},
    "encoding": {"x": {"datum": -26.7, "type": "quantitative", "scale": {"domain": [-0.5, 300.3], "nice": false, "zero": false}}, "x2": {"datum": 321.4}, "y": {"datum": 3.2214, "type": "quantitative", "scale": {"domain": [0.4, 2.4], "nice": false, "zero": false}}, "y2": {"datum": -0.0929}}},
   {"data": {"name": "razon"}, "mark": {"type": "line", "color": "#c00000", "strokeWidth": 2.5, "clip": true},
    "encoding": {"x": {"field": "d", "type": "quantitative", "scale": {"domain": [-0.5, 300.3], "nice": false, "zero": false},
      "axis": {"values": [0,7,14,21,28,35,42,49,56,63,70,77,84,91,98,105,112,119,126,133,140,147,154,161,168,175,182,189,196,203,210,217,224,231,238,245,252,259,266,273,280,287,294], "tickCount": 100, "labelExpr": "timeFormat(datetime(2020,7,31+datum.value),'%-d/%-m')", "labelAngle": -90, "labelFontSize": 9, "labelPadding": 3, "labelOverlap": false, "grid": false, "title": null}},
     "y": {"field": "v", "type": "quantitative", "scale": {"domain": [0.4, 2.4], "nice": false, "zero": false},
      "axis": {"values": [0.4,0.6,0.8,1,1.2,1.4,1.6,1.8,2,2.2,2.4], "tickCount": 100, "format": ".2f", "labelOverlap": false, "grid": true, "title": "RAZÓN DE CASOS", "titlePadding": 8, "labelPadding": 8, "labelFontSize": 9.5}}}},
   {"data": {"values": [{}]}, "mark": {"type": "rule", "color": "#ffc000", "strokeWidth": 2.5},
    "encoding": {"y": {"datum": 1.2, "type": "quantitative", "scale": {"domain": [0.4, 2.4], "nice": false, "zero": false}}}},
   {"data": {"values": [{}]}, "mark": {"type": "rect", "fill": "#e7e7e7", "stroke": "#bfbfbf"},
    "encoding": {"x": {"datum": 56.6, "type": "quantitative", "scale": {"domain": [-0.5, 300.3], "nice": false, "zero": false}}, "x2": {"datum": 244.1}, "y": {"datum": 3.2, "type": "quantitative", "scale": {"domain": [0.4, 2.4], "nice": false, "zero": false}}, "y2": {"datum": 2.8}}},
   {"data": {"values": [{}]}, "mark": {"type": "text", "text": "RAZÓN DE CASOS Y FACTOR DE CRECIMIENTO Tucumán", "fontSize": 18, "color": "#595959"},
    "encoding": {"x": {"datum": 150.3, "type": "quantitative", "scale": {"domain": [-0.5, 300.3], "nice": false, "zero": false}}, "y": {"datum": 3.0, "type": "quantitative", "scale": {"domain": [0.4, 2.4], "nice": false, "zero": false}}}},
   {"data": {"values": [{}]}, "mark": {"type": "rect", "fill": "#ececec", "stroke": "#c8c8c8"},
    "encoding": {"x": {"datum": 192.9, "type": "quantitative", "scale": {"domain": [-0.5, 300.3], "nice": false, "zero": false}}, "x2": {"datum": 210.4}, "y": {"datum": 2.7286, "type": "quantitative", "scale": {"domain": [0.4, 2.4], "nice": false, "zero": false}}, "y2": {"datum": 2.4143}}},
   {"data": {"values": [{}]}, "mark": {"type": "text", "text": "0,88", "fontSize": 10.5, "fontWeight": "bold", "color": "#404040"},
    "encoding": {"x": {"datum": 201.7, "type": "quantitative", "scale": {"domain": [-0.5, 300.3], "nice": false, "zero": false}}, "y": {"datum": 2.5714, "type": "quantitative", "scale": {"domain": [0.4, 2.4], "nice": false, "zero": false}}}},
   {"data": {"values": [{"s": "RAZÓN DE CASOS"}, {"s": "RIESGO"}, {"s": "FACTOR DE CRECIMIENTO (promedio últimos 7 días)"}]}, "mark": {"type": "line", "strokeWidth": 2.5},
    "encoding": {"color": {"field": "s", "type": "nominal", "scale": {"domain": ["RAZÓN DE CASOS", "RIESGO", "FACTOR DE CRECIMIENTO (promedio últimos 7 días)"], "range": ["#c00000", "#ffc000", "#002060"]},
      "legend": {"orient": "none", "legendX": 284, "legendY": -23, "title": null, "symbolType": "stroke", "symbolStrokeWidth": 2.5, "symbolSize": 500, "labelFontSize": 7.5, "labelLimit": 0, "rowPadding": 7, "padding": 5, "labelOffset": 2, "fillColor": "#f2f2f2", "strokeColor": "#c8c8c8"}}}}
  ]},
  {"layer": [
   {"data": {"name": "factor"}, "mark": {"type": "line", "color": "#002060", "strokeWidth": 2.5},
    "encoding": {"x": {"field": "d", "type": "quantitative", "scale": {"domain": [-0.5, 300.3], "nice": false, "zero": false}},
     "y": {"field": "v", "type": "quantitative", "scale": {"domain": [0.8, 1.2], "nice": false, "zero": false},
      "axis": {"orient": "right", "values": [0.8,0.85,0.9,0.95,1,1.05,1.1,1.15,1.2], "tickCount": 100, "format": ".2f", "labelOverlap": false, "grid": false, "title": "FC", "titleAngle": 90, "titlePadding": -12, "labelPadding": 3, "labelFontSize": 9.5}}}},
   {"data": {"values": [{}]}, "mark": {"type": "rect", "fill": "transparent", "stroke": "#7f7f7f"},
    "encoding": {"x": {"datum": 54.46, "type": "quantitative", "scale": {"domain": [-0.5, 300.3], "nice": false, "zero": false}}, "x2": {"datum": 249.2}, "y": {"datum": 0.8943, "type": "quantitative", "scale": {"domain": [0.8, 1.2], "nice": false, "zero": false}}, "y2": {"datum": 0.8143}}},
   {"data": {"values": [{}]}, "mark": {"type": "text", "text": "PROMEDIO MAYOR QUE 1, CRECEN LOS CASOS, MENOR QUE 1, BAJAN LOS CASOS", "fontSize": 10, "color": "#262626"},
    "encoding": {"x": {"datum": 151.8, "type": "quantitative", "scale": {"domain": [-0.5, 300.3], "nice": false, "zero": false}}, "y": {"datum": 0.8543, "type": "quantitative", "scale": {"domain": [0.8, 1.2], "nice": false, "zero": false}}}}
  ]}
 ]
 }
 ]
},
{
 "spacing": 0, "bounds": "flush",
 "hconcat": [
 {"width": 129, "height": 1, "data": {"values": []}, "mark": "point"},
 {
 "width": 664, "height": 378,
 "resolve": {"scale": {"y": "independent"}},
 "layer": [
  {"layer": [
   {"data": {"values": [{}]}, "mark": {"type": "rect", "stroke": "#bfbfbf", "fill": {"gradient": "radial", "x1": 0.45, "y1": 0.35, "x2": 0.45, "y2": 0.35, "r1": 0, "r2": 0.8, "stops": [{"offset": 0, "color": "#f6f6f6"}, {"offset": 1, "color": "#c8c8c8"}]}},
    "encoding": {"x": {"datum": -232.2, "type": "quantitative", "scale": {"domain": [0, 1200], "nice": false, "zero": false}}, "x2": {"datum": 1247.9}, "y": {"datum": 1.1098, "type": "quantitative", "scale": {"domain": [0, 1], "nice": false, "zero": false}, "axis": null}, "y2": {"datum": -0.0992}}},
   {"data": {"values": [{}]}, "mark": {"type": "rect", "fill": "#f2f2f2", "stroke": "#bfbfbf", "zindex": 2},
    "encoding": {"x": {"datum": 92.2, "type": "quantitative", "scale": {"domain": [0, 1200], "nice": false, "zero": false}}, "x2": {"datum": 932.5}, "y": {"datum": 1.0899, "type": "quantitative", "scale": {"domain": [0, 1], "nice": false, "zero": false}, "axis": null}, "y2": {"datum": 1.0106}}},
   {"data": {"values": [{}]}, "mark": {"type": "text", "text": "PROMEDIO CASOS CONFIRMADOS SEMANALES Tucumán", "fontSize": 16.5, "fontWeight": "bold", "color": "#262626", "zindex": 2},
    "encoding": {"x": {"datum": 511.4, "type": "quantitative", "scale": {"domain": [0, 1200], "nice": false, "zero": false}}, "y": {"datum": 1.0503, "type": "quantitative", "scale": {"domain": [0, 1], "nice": false, "zero": false}, "axis": null}}}
  ]},
  {"layer": [
   {"data": {"values": [{}]}, "mark": {"type": "rect", "fill": "#e4e4e4", "zindex": 2},
    "encoding": {"x": {"datum": 5, "type": "quantitative", "scale": {"domain": [0, 1200], "nice": false, "zero": false}}, "x2": {"datum": 52}}},
   {"data": {"name": "weeks"}, "mark": {"type": "bar", "color": "#5b9bd5", "zindex": 2},
    "encoding": {"x": {"field": "v", "type": "quantitative", "scale": {"domain": [0, 1200], "nice": false, "zero": false},
      "axis": {"values": [0,200,400,600,800,1000,1200], "tickCount": 100, "format": ",.0f", "labelExpr": "datum.value == 0 ? '-' : datum.label", "labelOverlap": false, "grid": true, "gridColor": "#a6a6a6", "domain": false, "ticks": false, "labelFontSize": 9.5, "labelPadding": 7, "title": "CASOS CONFIRMADOS", "titleFontWeight": "bold", "titleFontSize": 8, "titleColor": "#404040", "titlePadding": 4, "zindex": 1}},
     "y": {"field": "w", "type": "nominal", "sort": null, "scale": {"paddingInner": 0.45, "paddingOuter": 0.25},
      "axis": {"title": "DIAS", "titleFontWeight": "bold", "titleFontSize": 8, "titleColor": "#404040", "titlePadding": 4, "labelFontSize": 9, "labelColor": "#404040", "labelPadding": 8, "labelOverlap": false, "domain": true, "domainColor": "#262626", "domainWidth": 2, "ticks": false, "zindex": 3}}}},
   {"data": {"name": "weeks"}, "mark": {"type": "rule", "color": "#595959", "strokeWidth": 1.3, "zindex": 2},
    "encoding": {"x": {"field": "lo", "type": "quantitative", "scale": {"domain": [0, 1200], "nice": false, "zero": false}}, "x2": {"field": "hi"}, "y": {"field": "w", "type": "nominal", "sort": null}}},
   {"data": {"name": "weeks"}, "mark": {"type": "tick", "color": "#595959", "thickness": 1.3, "size": 6, "zindex": 2},
    "encoding": {"x": {"field": "lo", "type": "quantitative", "scale": {"domain": [0, 1200], "nice": false, "zero": false}}, "y": {"field": "w", "type": "nominal", "sort": null}}},
   {"data": {"name": "weeks"}, "mark": {"type": "tick", "color": "#595959", "thickness": 1.3, "size": 6, "zindex": 2},
    "encoding": {"x": {"field": "hi", "type": "quantitative", "scale": {"domain": [0, 1200], "nice": false, "zero": false}}, "y": {"field": "w", "type": "nominal", "sort": null}}},
   {"data": {"name": "weeks"}, "mark": {"type": "text", "align": "left", "baseline": "middle", "fontSize": 9.5, "fontWeight": "bold", "color": "#000000", "zindex": 2},
    "encoding": {"x": {"datum": 14, "type": "quantitative", "scale": {"domain": [0, 1200], "nice": false, "zero": false}}, "y": {"field": "w", "type": "nominal", "sort": null}, "text": {"field": "v", "type": "quantitative", "format": ",.0f"}}}
  ]}
 ]
 }
 ]
}
]
}
